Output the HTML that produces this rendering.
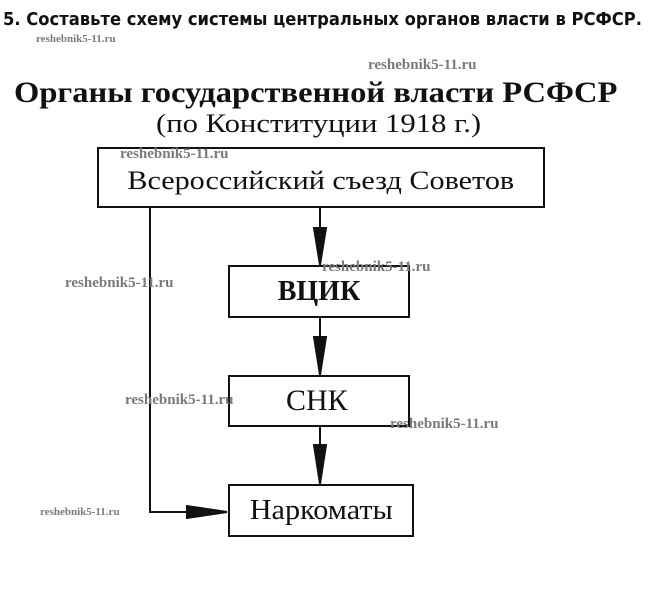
<!DOCTYPE html>
<html><head><meta charset="utf-8"><style>
body{margin:0;background:#fff;width:648px;height:601px;overflow:hidden;position:relative}
.t{position:absolute;white-space:nowrap}
.w{position:absolute;white-space:nowrap;font-family:"Liberation Serif",serif;color:#7a7a7a;font-weight:bold}
.b{position:absolute;border:2px solid #111;box-sizing:border-box;display:flex;align-items:center;justify-content:center;font-family:"Liberation Serif","Noto Serif CJK SC",serif;color:#111}
</style></head><body>
<div class="t" style="left:3px;top:10px;font:bold 17.5px 'DejaVu Sans',sans-serif;color:#111;transform:scaleX(0.935);transform-origin:left">5. Составьте схему системы центральных органов власти в РСФСР.</div>
<div class="w" style="left:36px;top:33px;font-size:11px">reshebnik5-11.ru</div>
<div class="w" style="left:368px;top:57px;font-size:15px">reshebnik5-11.ru</div>
<div class="t" style="left:14px;top:76px;font:bold 30px 'Liberation Serif',serif;color:#111;transform:scaleX(1.085);transform-origin:left">Органы государственной власти РСФСР</div>
<div class="t" style="left:156px;top:109px;font:26px 'Liberation Serif',serif;color:#111;transform:scaleX(1.18);transform-origin:left">(по Конституции 1918 г.)</div>
<div class="b" style="left:97px;top:147px;width:448px;height:61px;font-size:26px;padding-top:6px"><span style="display:inline-block;transform:scaleX(1.16)">Всероссийский съезд Советов</span></div>
<div class="w" style="left:120px;top:146px;font-size:15px">reshebnik5-11.ru</div>
<div class="b" style="left:228px;top:265px;width:182px;height:53px;font-size:28px;font-weight:bold">ВЦИК</div>
<div class="b" style="left:228px;top:375px;width:182px;height:52px;font-size:30px;justify-content:flex-start;padding-left:56px">СНК</div>
<div class="b" style="left:228px;top:484px;width:186px;height:53px;font-size:28px"><span style="display:inline-block;transform:scaleX(1.08)">Наркоматы</span></div>
<svg width="648" height="601" style="position:absolute;left:0;top:0">
<g stroke="#111" stroke-width="2" fill="#111">
<line x1="320" y1="208" x2="320" y2="230"/><polygon points="314,228 326,228 320,265"/>
<line x1="320" y1="318" x2="320" y2="340"/><polygon points="314,337 326,337 320,375"/>
<line x1="320" y1="427" x2="320" y2="447"/><polygon points="314,445 326,445 320,484"/>
<polyline points="150,208 150,512 190,512" fill="none"/><polygon points="187,506 187,518 227,512"/>
</g></svg>
<div class="w" style="left:65px;top:275px;font-size:15px">reshebnik5-11.ru</div>
<div class="w" style="left:322px;top:259px;font-size:15px">reshebnik5-11.ru</div>
<div class="w" style="left:125px;top:392px;font-size:15px">reshebnik5-11.ru</div>
<div class="w" style="left:390px;top:416px;font-size:15px">reshebnik5-11.ru</div>
<div class="w" style="left:40px;top:506px;font-size:11px">reshebnik5-11.ru</div>
</body></html>
